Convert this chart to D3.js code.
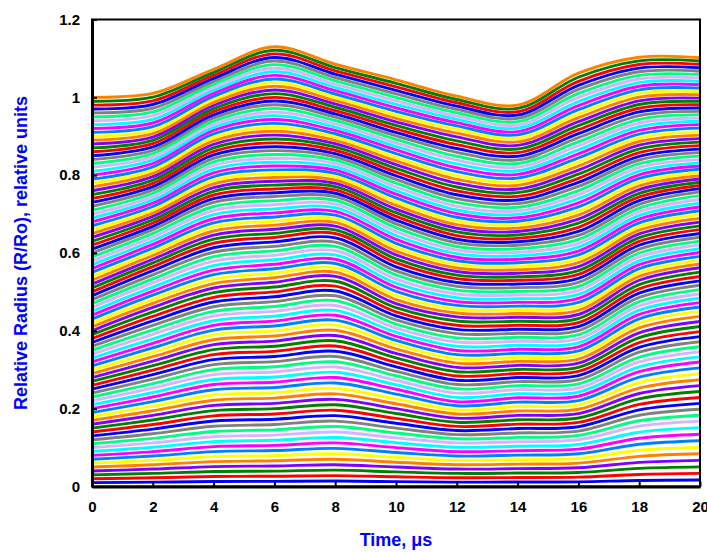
<!DOCTYPE html>
<html lang="en">
<head>
<meta charset="utf-8">
<title>Relative radius vs time</title>
<script src="https://d3js.org/d3.v7.min.js"></script>
<style>
  body { margin: 0; background: #fff; }
  svg { display: block; font-family: "Liberation Sans", Arial, sans-serif; }
  .axis text { font-size: 15px; font-weight: bold; fill: #000; font-family: "Liberation Sans", Arial, sans-serif; }
  .axis .domain { stroke: #000; stroke-width: 3px; }
  .axis .tick line { stroke: #000; stroke-width: 2px; }
  .axis-title { font-size: 18px; font-weight: bold; fill: #0000ff; }
  .shell { fill: none; stroke-width: 2.9px; }
</style>
</head>
<body>
<svg width="707" height="552"></svg>
<script>
// time points (microseconds) shared by every shell
var times = [0, 2, 4, 6, 8, 10, 12, 14, 16, 18, 20];

// relative radius of each shell, inner shells first, ten shells per band
var band0 = [
  [0.01,0.0112,0.0128,0.0132,0.014,0.0125,0.0112,0.0115,0.012,0.0155,0.0168],
  [0.02,0.0224,0.0256,0.0264,0.028,0.025,0.0224,0.023,0.024,0.031,0.0336],
  [0.03,0.0336,0.0384,0.0396,0.042,0.0375,0.0336,0.0345,0.036,0.0465,0.0504],
  [0.04,0.0448,0.0512,0.0528,0.056,0.05,0.0448,0.046,0.048,0.062,0.0672],
  [0.05,0.056,0.064,0.066,0.07,0.0625,0.056,0.0575,0.06,0.0775,0.084],
  [0.06,0.0672,0.0768,0.0792,0.084,0.075,0.0672,0.069,0.072,0.093,0.1008],
  [0.07,0.0784,0.0896,0.0924,0.098,0.0875,0.0784,0.0805,0.084,0.1085,0.1176],
  [0.08,0.0896,0.1024,0.1056,0.112,0.1,0.0896,0.092,0.096,0.124,0.1344],
  [0.09,0.1008,0.1152,0.1188,0.126,0.1125,0.1008,0.1035,0.108,0.1395,0.1512],
  [0.1,0.112,0.128,0.132,0.14,0.125,0.112,0.115,0.12,0.155,0.168]
];
var band1 = [
  [0.11,0.1238,0.1414,0.1456,0.154,0.1375,0.1226,0.1263,0.1312,0.169,0.1832],
  [0.12,0.1356,0.1548,0.1592,0.168,0.15,0.1332,0.1376,0.1424,0.183,0.1984],
  [0.13,0.1474,0.1682,0.1728,0.182,0.1625,0.1438,0.1489,0.1536,0.197,0.2136],
  [0.14,0.1592,0.1816,0.1864,0.196,0.175,0.1544,0.1602,0.1648,0.211,0.2288],
  [0.15,0.171,0.195,0.2,0.21,0.1875,0.165,0.1715,0.176,0.225,0.244],
  [0.16,0.1828,0.2084,0.2136,0.224,0.2,0.1756,0.1828,0.1872,0.239,0.2592],
  [0.17,0.1946,0.2218,0.2272,0.238,0.2125,0.1862,0.1941,0.1984,0.253,0.2744],
  [0.18,0.2064,0.2352,0.2408,0.252,0.225,0.1968,0.2054,0.2096,0.267,0.2896],
  [0.19,0.2182,0.2486,0.2544,0.266,0.2375,0.2074,0.2167,0.2208,0.281,0.3048],
  [0.2,0.23,0.262,0.268,0.28,0.25,0.218,0.228,0.232,0.295,0.32]
];
var band2 = [
  [0.21,0.2415,0.2748,0.2812,0.2935,0.2615,0.229,0.2384,0.2426,0.3075,0.333],
  [0.22,0.253,0.2876,0.2944,0.307,0.273,0.24,0.2488,0.2532,0.32,0.346],
  [0.23,0.2645,0.3004,0.3076,0.3205,0.2845,0.251,0.2592,0.2638,0.3325,0.359],
  [0.24,0.276,0.3132,0.3208,0.334,0.296,0.262,0.2696,0.2744,0.345,0.372],
  [0.25,0.2875,0.326,0.334,0.3475,0.3075,0.273,0.28,0.285,0.3575,0.385],
  [0.26,0.299,0.3388,0.3472,0.361,0.319,0.284,0.2904,0.2956,0.37,0.398],
  [0.27,0.3105,0.3516,0.3604,0.3745,0.3305,0.295,0.3008,0.3062,0.3825,0.411],
  [0.28,0.322,0.3644,0.3736,0.388,0.342,0.306,0.3112,0.3168,0.395,0.424],
  [0.29,0.3335,0.3772,0.3868,0.4015,0.3535,0.317,0.3216,0.3274,0.4075,0.437],
  [0.3,0.345,0.39,0.4,0.415,0.365,0.328,0.332,0.338,0.42,0.45]
];
var band3 = [
  [0.31,0.3565,0.402,0.4125,0.4275,0.3755,0.3388,0.3423,0.3484,0.431,0.4612],
  [0.32,0.368,0.414,0.425,0.44,0.386,0.3496,0.3526,0.3588,0.442,0.4724],
  [0.33,0.3795,0.426,0.4375,0.4525,0.3965,0.3604,0.3629,0.3692,0.453,0.4836],
  [0.34,0.391,0.438,0.45,0.465,0.407,0.3712,0.3732,0.3796,0.464,0.4948],
  [0.35,0.4025,0.45,0.4625,0.4775,0.4175,0.382,0.3835,0.39,0.475,0.506],
  [0.36,0.414,0.462,0.475,0.49,0.428,0.3928,0.3938,0.4004,0.486,0.5172],
  [0.37,0.4255,0.474,0.4875,0.5025,0.4385,0.4036,0.4041,0.4108,0.497,0.5284],
  [0.38,0.437,0.486,0.5,0.515,0.449,0.4144,0.4144,0.4212,0.508,0.5396],
  [0.39,0.4485,0.498,0.5125,0.5275,0.4595,0.4252,0.4247,0.4316,0.519,0.5508],
  [0.4,0.46,0.51,0.525,0.54,0.47,0.436,0.435,0.442,0.53,0.562]
];
var band4 = [
  [0.41,0.4705,0.5215,0.5365,0.551,0.4805,0.4458,0.4445,0.4523,0.54,0.5718],
  [0.42,0.481,0.533,0.548,0.562,0.491,0.4556,0.454,0.4626,0.55,0.5816],
  [0.43,0.4915,0.5445,0.5595,0.573,0.5015,0.4654,0.4635,0.4729,0.56,0.5914],
  [0.44,0.502,0.556,0.571,0.584,0.512,0.4752,0.473,0.4832,0.57,0.6012],
  [0.45,0.5125,0.5675,0.5825,0.595,0.5225,0.485,0.4825,0.4935,0.58,0.611],
  [0.46,0.523,0.579,0.594,0.606,0.533,0.4948,0.492,0.5038,0.59,0.6208],
  [0.47,0.5335,0.5905,0.6055,0.617,0.5435,0.5046,0.5015,0.5141,0.6,0.6306],
  [0.48,0.544,0.602,0.617,0.628,0.554,0.5144,0.511,0.5244,0.61,0.6404],
  [0.49,0.5545,0.6135,0.6285,0.639,0.5645,0.5242,0.5205,0.5347,0.62,0.6502],
  [0.5,0.565,0.625,0.64,0.65,0.575,0.534,0.53,0.545,0.63,0.66]
];
var band5 = [
  [0.51,0.5745,0.6355,0.6505,0.6595,0.585,0.5432,0.539,0.555,0.6395,0.6697],
  [0.52,0.584,0.646,0.661,0.669,0.595,0.5524,0.548,0.565,0.649,0.6794],
  [0.53,0.5935,0.6565,0.6715,0.6785,0.605,0.5616,0.557,0.575,0.6585,0.6891],
  [0.54,0.603,0.667,0.682,0.688,0.615,0.5708,0.566,0.585,0.668,0.6988],
  [0.55,0.6125,0.6775,0.6925,0.6975,0.625,0.58,0.575,0.595,0.6775,0.7085],
  [0.56,0.622,0.688,0.703,0.707,0.635,0.5892,0.584,0.605,0.687,0.7182],
  [0.57,0.6315,0.6985,0.7135,0.7165,0.645,0.5984,0.593,0.615,0.6965,0.7279],
  [0.58,0.641,0.709,0.724,0.726,0.655,0.6076,0.602,0.625,0.706,0.7376],
  [0.59,0.6505,0.7195,0.7345,0.7355,0.665,0.6168,0.611,0.635,0.7155,0.7473],
  [0.6,0.66,0.73,0.745,0.745,0.675,0.626,0.62,0.645,0.725,0.757]
];
var band6 = [
  [0.61,0.6685,0.7395,0.7548,0.7535,0.6845,0.6354,0.6288,0.6555,0.7345,0.7653],
  [0.62,0.677,0.749,0.7646,0.762,0.694,0.6448,0.6376,0.666,0.744,0.7736],
  [0.63,0.6855,0.7585,0.7744,0.7705,0.7035,0.6542,0.6464,0.6765,0.7535,0.7819],
  [0.64,0.694,0.768,0.7842,0.779,0.713,0.6636,0.6552,0.687,0.763,0.7902],
  [0.65,0.7025,0.7775,0.794,0.7875,0.7225,0.673,0.664,0.6975,0.7725,0.7985],
  [0.66,0.711,0.787,0.8038,0.796,0.732,0.6824,0.6728,0.708,0.782,0.8068],
  [0.67,0.7195,0.7965,0.8136,0.8045,0.7415,0.6918,0.6816,0.7185,0.7915,0.8151],
  [0.68,0.728,0.806,0.8234,0.813,0.751,0.7012,0.6904,0.729,0.801,0.8234],
  [0.69,0.7365,0.8155,0.8332,0.8215,0.7605,0.7106,0.6992,0.7395,0.8105,0.8317],
  [0.7,0.745,0.825,0.843,0.83,0.77,0.72,0.708,0.75,0.82,0.84]
];
var band7 = [
  [0.71,0.7535,0.834,0.853,0.8385,0.7795,0.7299,0.7174,0.7605,0.8295,0.849],
  [0.72,0.762,0.843,0.863,0.847,0.789,0.7398,0.7268,0.771,0.839,0.858],
  [0.73,0.7705,0.852,0.873,0.8555,0.7985,0.7497,0.7362,0.7815,0.8485,0.867],
  [0.74,0.779,0.861,0.883,0.864,0.808,0.7596,0.7456,0.792,0.858,0.876],
  [0.75,0.7875,0.87,0.893,0.8725,0.8175,0.7695,0.755,0.8025,0.8675,0.885],
  [0.76,0.796,0.879,0.903,0.881,0.827,0.7794,0.7644,0.813,0.877,0.894],
  [0.77,0.8045,0.888,0.913,0.8895,0.8365,0.7893,0.7738,0.8235,0.8865,0.903],
  [0.78,0.813,0.897,0.923,0.898,0.846,0.7992,0.7832,0.834,0.896,0.912],
  [0.79,0.8215,0.906,0.933,0.9065,0.8555,0.8091,0.7926,0.8445,0.9055,0.921],
  [0.8,0.83,0.915,0.943,0.915,0.865,0.819,0.802,0.855,0.915,0.93]
];
var band8 = [
  [0.81,0.8385,0.923,0.9525,0.9235,0.874,0.8289,0.8113,0.8653,0.9245,0.9385],
  [0.82,0.847,0.931,0.962,0.932,0.883,0.8388,0.8206,0.8756,0.934,0.947],
  [0.83,0.8555,0.939,0.9715,0.9405,0.892,0.8487,0.8299,0.8859,0.9435,0.9555],
  [0.84,0.864,0.947,0.981,0.949,0.901,0.8586,0.8392,0.8962,0.953,0.964],
  [0.85,0.8725,0.955,0.9905,0.9575,0.91,0.8685,0.8485,0.9065,0.9625,0.9725],
  [0.86,0.881,0.963,1,0.966,0.919,0.8784,0.8578,0.9168,0.972,0.981],
  [0.87,0.8895,0.971,1.0095,0.9745,0.928,0.8883,0.8671,0.9271,0.9815,0.9895],
  [0.88,0.898,0.979,1.019,0.983,0.937,0.8982,0.8764,0.9374,0.991,0.998],
  [0.89,0.9065,0.987,1.0285,0.9915,0.946,0.9081,0.8857,0.9477,1.0005,1.0065],
  [0.9,0.915,0.995,1.038,1,0.955,0.918,0.895,0.958,1.01,1.015]
];
var band9 = [
  [0.91,0.9245,1.0027,1.0472,1.0085,0.964,0.9265,0.9035,0.9684,1.0193,1.0237],
  [0.92,0.934,1.0104,1.0564,1.017,0.973,0.935,0.912,0.9788,1.0286,1.0324],
  [0.93,0.9435,1.0181,1.0656,1.0255,0.982,0.9435,0.9205,0.9892,1.0379,1.0411],
  [0.94,0.953,1.0258,1.0748,1.034,0.991,0.952,0.929,0.9996,1.0472,1.0498],
  [0.95,0.9625,1.0335,1.084,1.0425,1,0.9605,0.9375,1.01,1.0565,1.0585],
  [0.96,0.972,1.0412,1.0932,1.051,1.009,0.969,0.946,1.0204,1.0658,1.0672],
  [0.97,0.9815,1.0489,1.1024,1.0595,1.018,0.9775,0.9545,1.0308,1.0751,1.0759],
  [0.98,0.991,1.0566,1.1116,1.068,1.027,0.986,0.963,1.0412,1.0844,1.0846],
  [0.99,1.0005,1.0643,1.1208,1.0765,1.036,0.9945,0.9715,1.0516,1.0937,1.0933],
  [1,1.01,1.072,1.13,1.085,1.045,1.003,0.98,1.062,1.103,1.102]
];

var palette = ["#0000ff", "#ff0000", "#008000", "#8000ff", "#ff8000", "#ffff00",
               "#0080ff", "#ff00ff", "#00ffff", "#d9b3ff", "#00ff80", "#808080"];
var surfaceColor = "#ff8000";

var xTicks = [0, 2, 4, 6, 8, 10, 12, 14, 16, 18, 20];
var yTicks = [0, 0.2, 0.4, 0.6, 0.8, 1, 1.2];
var yTickLabels = ["0", "0.2", "0.4", "0.6", "0.8", "1", "1.2"];

var shells = [].concat(band0, band1, band2, band3, band4, band5, band6, band7, band8, band9);

var svg = d3.select("svg"),
    plotLeft = 92, plotRight = 700, plotTop = 19.5, plotBottom = 486.5;

var x = d3.scaleLinear().domain([0, 20]).range([plotLeft, plotRight]),
    y = d3.scaleLinear().domain([0, 1.2]).range([plotBottom, plotTop]);

var line = d3.line()
    .curve(d3.curveCatmullRom)
    .x(function(d, i) { return x(times[i]); })
    .y(function(d) { return y(d); });

svg.append("g")
    .selectAll("path")
    .data(shells)
    .enter().append("path")
      .attr("class", "shell")
      .attr("d", line)
      .style("stroke", function(d, i) { return i === shells.length - 1 ? surfaceColor : palette[i % palette.length]; });

// frame on top and right
svg.append("rect")
    .attr("x", plotLeft)
    .attr("y", plotTop)
    .attr("width", plotRight - plotLeft)
    .attr("height", plotBottom - plotTop)
    .attr("fill", "none")
    .attr("stroke", "#000")
    .attr("stroke-width", 2);

svg.append("g")
    .attr("class", "axis axis--x")
    .attr("transform", "translate(0," + plotBottom + ")")
    .call(d3.axisBottom(x).tickValues(xTicks).tickSizeInner(-5).tickSizeOuter(0).tickPadding(15));

svg.append("g")
    .attr("class", "axis axis--y")
    .attr("transform", "translate(" + plotLeft + ",0)")
    .call(d3.axisLeft(y).tickValues(yTicks).tickSizeInner(-5).tickSizeOuter(0).tickPadding(12)
      .tickFormat(function(d, i) { return yTickLabels[i]; }));

svg.append("text")
    .attr("class", "axis-title")
    .attr("x", (plotLeft + plotRight) / 2)
    .attr("y", 546)
    .attr("text-anchor", "middle")
    .text("Time, \u03bcs");

svg.append("text")
    .attr("class", "axis-title")
    .attr("transform", "translate(27," + (plotTop + plotBottom) / 2 + ") rotate(-90)")
    .attr("text-anchor", "middle")
    .text("Relative Radius (R/Ro), relative units");
</script>
</body>
</html>
